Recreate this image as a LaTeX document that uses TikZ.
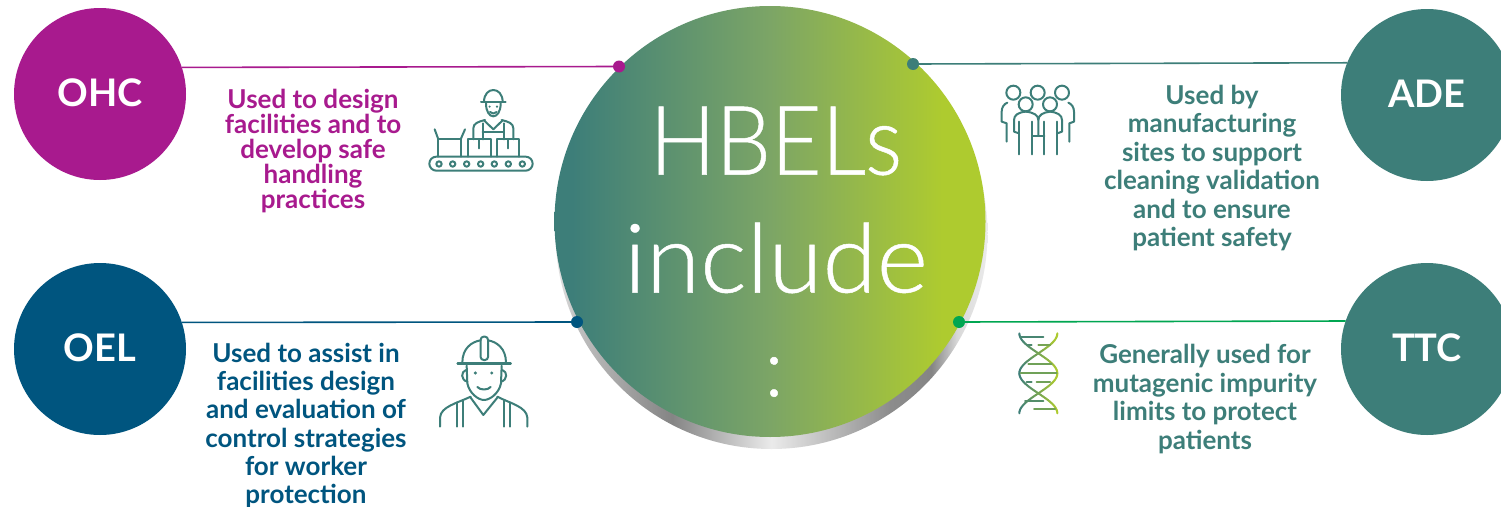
\documentclass[tikz,border=0pt]{standalone}
\usepackage{fontspec}
\setmainfont{Lato}[BoldFont=* Bold]
\newfontface\lightfont{Lato Light}[FakeBold=0.5]
\usetikzlibrary{calc}
\definecolor{cohc}{HTML}{A81A8E}
\definecolor{coel}{HTML}{00557F}
\definecolor{cade}{HTML}{3D7E79}
\definecolor{cgrn}{HTML}{00A651}
\definecolor{clime}{HTML}{AECB2F}
\definecolor{cmid}{HTML}{7CA566}
\pgfdeclarehorizontalshading{mainshade}{100bp}{color(0bp)=(cade); color(27bp)=(cade); color(50bp)=(cmid); color(70bp)=(clime); color(100bp)=(clime)}
\pgfdeclarehorizontalshading{rimshade}{100bp}{color(0bp)=(black!10); color(25bp)=(black!10); color(27.5bp)=(black!25); color(38.5bp)=(black!48); color(50bp)=(black!8); color(63.7bp)=(black!45); color(68.5bp)=(black!48); color(71.5bp)=(black!15); color(75bp)=(black!8); color(100bp)=(black!8)}
\tikzset{
  x=1pt,y=-1pt,
  badge/.style={circle,inner sep=0pt,outer sep=0pt,minimum size=172pt,text=white,font=\fontsize{38}{38}\selectfont\bfseries},
  dotm/.style={circle,inner sep=0pt,outer sep=0pt,minimum size=12pt},
  lead/.style={line width=1.6pt},
  blurb/.style={align=center,inner sep=0pt,font=\fontsize{26}{25}\selectfont\bfseries},
  title/.style={text=white,inner sep=0pt,font=\fontsize{96}{96}\selectfont\lightfont},
  ico/.style={draw=cade,line width=2pt,line cap=round,line join=round},
}
\begin{document}
\begin{tikzpicture}
\clip (0,0) rectangle (1501,506);
\fill[white] (0,0) rectangle (1501,506);
% central disc
\path[shading=rimshade] (771.5,233) circle (216);
\node[circle,inner sep=0pt,outer sep=0pt,minimum size=431pt,shading=mainshade] (hub) at (770,221.5) {};
\node[title] (t1) at (776,141) {\scalebox{0.91}[1]{HBELs}};
\node[title] (t2) at (776,258) {\scalebox{1.025}[1]{include}};
\node[title,font=\fontsize{81}{81}\selectfont\lightfont] (t3) at (774,377) {:};
% badges
\node[badge,fill=cohc] (ohc) at (100,94) {\raisebox{2pt}{OHC}};
\node[badge,fill=coel] (oel) at (100,349) {\raisebox{2pt}{OEL}};
\node[badge,fill=cade] (ade) at (1427,95) {\raisebox{2pt}{ADE}};
\node[badge,fill=cade] (ttc) at (1427,349) {\raisebox{2pt}{TTC}};
% dots
\node[dotm,fill=cohc] (dohc) at (619,66.5) {};
\node[dotm,fill=coel] (doel) at (577,322) {};
\node[dotm,fill=cade] (dade) at (913,64) {};
\node[dotm,fill=cgrn] (dttc) at (959,322) {};
\draw[lead,cohc] (ohc.18.65) -- (dohc);
\draw[lead,coel] (oel.18.3) -- (doel);
\draw[lead,cade] (ade.158.8) -- (dade);
\draw[lead,cgrn] (ttc.161.7) -- (dttc);
% texts
\node[blurb,text=cohc] (bohc) at (313,151) {Used to design\\facilities and to\\develop safe\\handling\\practices};
\node[blurb,text=coel,font=\fontsize{26}{28.2}\selectfont\bfseries] (boel) at (306,425.5) {Used to assist in\\facilities design\\and evaluation of\\control strategies\\for worker\\protection};
\node[blurb,text=cade,font=\fontsize{26}{28.4}\selectfont\bfseries] (bade) at (1212,168) {Used by\\manufacturing\\sites to support\\cleaning validation\\and to ensure\\patient safety};
\node[blurb,text=cade,font=\fontsize{26}{28.7}\selectfont\bfseries] (bttc) at (1205,399) {Generally used for\\mutagenic impurity\\limits to protect\\patients};
% icon: worker at conveyor
\begin{scope}[shift={(420,80)},x=0.3333pt,y=-0.3333pt,ico]
\draw[rounded corners=7pt] (28,230) rectangle (338,272);
\foreach \cx in {57,98,140,182,223,265,307} \draw (\cx,252) circle (8);
\draw (55,230) -- (55,178) -- (122,178) -- (122,230);
\draw (55,178) -- (44,148) (122,178) -- (135,148);
\draw (143,230) -- (143,178) -- (212,178) -- (212,230) (178,178) -- (178,205);
\draw (231,230) -- (231,178) -- (298,178) -- (298,230) (265,178) -- (265,205);
\draw (183,67) -- (257,67);
\draw (192,66) .. controls (192,18) and (248,18) .. (248,66);
\draw (198,70) .. controls (198,122) and (242,122) .. (242,70);
\draw (210,96) .. controls (216,102) and (224,102) .. (230,96);
\fill[cade] (209,80) circle (3.5) (231,80) circle (3.5);
\draw (160,178) -- (160,145) .. controls (160,130) and (175,125) .. (195,120);
\draw (280,178) -- (280,145) .. controls (280,130) and (265,125) .. (245,120);
\draw (193,122) -- (220,148) -- (247,122);
\draw (188,130) -- (188,178) (252,130) -- (252,178) (188,156) -- (252,156);
\end{scope}
% icon: worker portrait
\begin{scope}[shift={(430,325)},x=0.3333pt,y=-0.3333pt,ico]
\draw[line width=2.6pt] (83,116) -- (242,116);
\draw (97,113) .. controls (97,70) and (125,50) .. (152,46);
\draw (228,113) .. controls (228,70) and (200,50) .. (174,46);
\draw[rounded corners=3pt] (152,35) rectangle (174,105);
\draw (108,135) .. controls (92,140) and (92,165) .. (112,170);
\draw (217,135) .. controls (233,140) and (233,165) .. (213,170);
\draw (110,122) -- (112,175) .. controls (118,205) and (145,225) .. (162,225) .. controls (180,225) and (207,205) .. (213,175) -- (215,122);
\fill[cade] (136,144) circle (5) (185,144) circle (5);
\draw (142,186) .. controls (150,196) and (174,196) .. (182,186);
\draw (30,305) -- (30,278) .. controls (32,245) and (80,235) .. (122,215);
\draw (292,305) -- (292,278) .. controls (290,245) and (240,235) .. (202,215);
\draw (122,218) -- (160,270) -- (202,218);
\draw (80,232) -- (80,305) (98,226) -- (98,305) (222,226) -- (222,305) (240,232) -- (240,305);
\end{scope}
% icon: people
\begin{scope}[shift={(990,70)},x=0.3333pt,y=-0.3333pt,ico]
\foreach \hx/\hy in {70/68,143/68,216/68,107/103,180/103} \draw (\hx,\hy) circle (21);
\draw (52,98) .. controls (42,102) and (35,112) .. (35,125) -- (35,155) -- (50,160) -- (50,215);
\draw (235,98) .. controls (245,102) and (252,112) .. (252,125) -- (252,155) -- (238,160) -- (238,215);
\draw (87,190) -- (72,185) -- (72,150) .. controls (72,135) and (85,127) .. (107,125) .. controls (130,127) and (145,135) .. (145,150) -- (145,197);
\draw (145,150) .. controls (145,135) and (160,127) .. (180,125) .. controls (202,127) and (216,135) .. (216,150) -- (216,185) -- (202,190);
\draw (87,155) -- (87,253) (127,155) -- (127,253) (163,155) -- (163,253) (202,155) -- (202,253);
\draw (127,197) -- (163,197);
\end{scope}
% icon: DNA helix
\begin{scope}[shift={(1000,320)},x=0.3333pt,y=-0.3333pt,line width=2pt,line cap=round]
\foreach \i in {0,...,47}{
  \pgfmathsetmacro{\ya}{40+\i*5}
  \pgfmathsetmacro{\yb}{45+\i*5}
  \pgfmathsetmacro{\xa}{115-57*cos((\ya-40)*1.5)}
  \pgfmathsetmacro{\xb}{115-57*cos((\yb-40)*1.5)}
  \pgfmathsetmacro{\xc}{115+57*cos((\ya-40)*1.5)}
  \pgfmathsetmacro{\xd}{115+57*cos((\yb-40)*1.5)}
  \pgfmathsetmacro{\ma}{int(100-(\xa-58)/1.14)}
  \pgfmathsetmacro{\mc}{int(100-(\xc-58)/1.14)}
  \draw[cade!\ma!clime] (\xa,\ya) -- (\xb,\yb);
  \draw[cade!\mc!clime] (\xc,\ya) -- (\xd,\yb);
}
\foreach \xa/\xb/\yy/\mm in {62/130/50/90,82/95/74/85,115/150/74/50,85/155/132/55,62/170/160/55,80/95/187/85,110/150/187/55,75/130/243/80,102/165/268/55}
  \draw[cade!\mm!clime] (\xa,\yy) -- (\xb,\yy);
\end{scope}
\end{tikzpicture}
\end{document}
